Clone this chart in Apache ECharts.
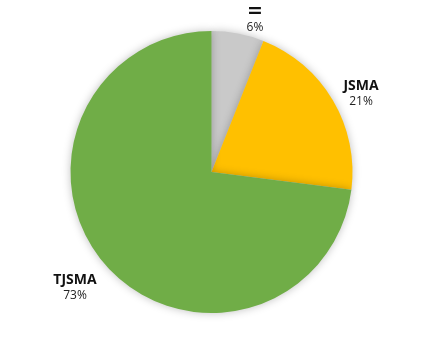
<!DOCTYPE html>
<html><head><meta charset="utf-8">
<script src="https://cdn.jsdelivr.net/npm/echarts@6/dist/echarts.min.js"></script>
<style>html,body{margin:0;padding:0;background:#fff}#c{width:423px;height:344px}</style>
</head><body><div id="c"></div>
<script>
var categories = ['=', 'JSMA', 'TJSMA'];
var values = [6, 21, 73];
var colors = ['#C9C9C9', '#FFC000', '#70AD47'];
var labelPos = [[255, 20], [361, 94], [75, 288]];
var chart = echarts.init(document.getElementById('c'));
chart.setOption({
  animation: false,
  series: [{
    type: 'pie',
    center: [211.5, 172],
    radius: 141,
    startAngle: 90,
    clockwise: true,
    data: categories.map(function (c, i) { return { name: c, value: values[i], itemStyle: { color: colors[i] } }; }),
    itemStyle: { borderWidth: 0, shadowBlur: 8, shadowColor: 'rgba(0,0,0,0.25)' },
    emphasis: { disabled: true },
    labelLine: { show: false },
    label: {
      show: true,
      position: 'outside',
      overflow: 'none',
      formatter: function (p) {
        var nm = p.name === '=' ? '{e|' + p.name + '}' : '{n|' + p.name + '}';
        return nm + '\n{p|' + p.value + '%}';
      },
      rich: {
        n: { fontFamily: 'Open Sans', fontWeight: 'bold', fontSize: 14, color: '#111', lineHeight: 15, align: 'center' },
        e: { fontFamily: 'DejaVu Sans', fontWeight: 'bold', fontSize: 19, color: '#111', lineHeight: 15, align: 'center' },
        p: { fontFamily: 'Open Sans', fontSize: 12, color: '#222', lineHeight: 15, align: 'center' }
      }
    },
    labelLayout: function (params) {
      var pos = labelPos[params.dataIndex];
      return { x: pos[0], y: pos[1], align: 'center', verticalAlign: 'middle', width: 80 };
    }
  }]
});
</script></body></html>
